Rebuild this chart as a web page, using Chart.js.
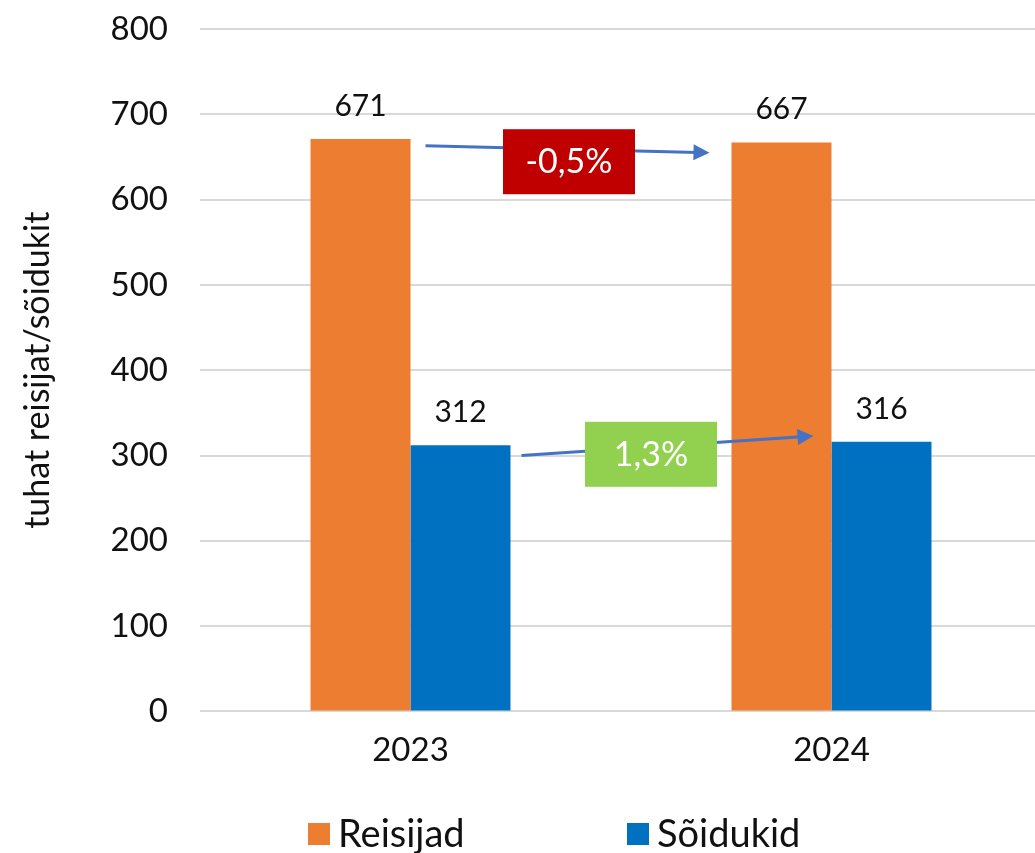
<!DOCTYPE html>
<html>
<head>
<meta charset="utf-8">
<script src="https://cdn.jsdelivr.net/npm/chart.js@4"></script>
<style>
  html, body { margin: 0; padding: 0; background: #fff; overflow: hidden; }
  #wrap { width: 1045px; height: 853px; }
</style>
</head>
<body>
<div id="wrap"><canvas id="grafik"></canvas></div>
<script>
// Andmed
const aastad = ["2023", "2024"];
const reisijad = [671, 667];
const soidukid = [312, 316];
const muutused = ["-0,5%", "1,3%"];

// Väärtused tulpade kohal
const vaartusSildid = {
  id: "vaartusSildid",
  afterDatasetsDraw(chart) {
    const ctx = chart.ctx;
    ctx.save();
    ctx.font = "30px Lato";
    ctx.fillStyle = "#111";
    ctx.textAlign = "center";
    ctx.textBaseline = "bottom";
    chart.data.datasets.forEach((ds, i) => {
      chart.getDatasetMeta(i).data.forEach((bar, j) => {
        ctx.fillText(ds.data[j], bar.x, bar.y - 18);
      });
    });
    ctx.restore();
  }
};

// Nooled ja muutuse kastid
const nooled = {
  id: "nooled",
  afterDatasetsDraw(chart) {
    const ctx = chart.ctx;
    const y = chart.scales.y;
    const noolList = [
      { ds: 0, y1: 663, y2: 655, d1: 65, d2: -72, tekst: muutused[0], bg: "#C00000", dx: -2, by: 645 },
      { ds: 1, y1: 300, y2: 323, d1: 61, d2: -68, tekst: muutused[1], bg: "#92D050", dx: -20, by: 302 }
    ];
    ctx.save();
    noolList.forEach(n => {
      const m = chart.getDatasetMeta(n.ds).data;
      const x1 = m[0].x + n.d1, x2 = m[1].x + n.d2;
      const ya = y.getPixelForValue(n.y1), yb = y.getPixelForValue(n.y2);
      ctx.strokeStyle = "#4472C4";
      ctx.fillStyle = "#4472C4";
      ctx.lineWidth = 3;
      const ang = Math.atan2(yb - ya, x2 - x1);
      ctx.beginPath();
      ctx.moveTo(x1, ya);
      ctx.lineTo(x2 - 12 * Math.cos(ang), yb - 12 * Math.sin(ang));
      ctx.stroke();
      ctx.beginPath();
      ctx.moveTo(x2, yb);
      ctx.lineTo(x2 - 16 * Math.cos(ang) + 8 * Math.sin(ang), yb - 16 * Math.sin(ang) - 8 * Math.cos(ang));
      ctx.lineTo(x2 - 16 * Math.cos(ang) - 8 * Math.sin(ang), yb - 16 * Math.sin(ang) + 8 * Math.cos(ang));
      ctx.closePath();
      ctx.fill();
      // kast
      const bx = (m[0].x + m[1].x) / 2 + n.dx;
      const byPx = y.getPixelForValue(n.by);
      ctx.fillStyle = n.bg;
      ctx.fillRect(bx - 66, byPx - 32, 132, 65);
      ctx.fillStyle = "#fff";
      ctx.font = "34px Lato";
      ctx.textAlign = "center";
      ctx.textBaseline = "middle";
      ctx.fillText(n.tekst, bx, byPx + 1);
    });
    ctx.restore();
  }
};

// Legend all, laiemate vahedega
const legend = {
  id: "omaLegend",
  afterDraw(chart) {
    const ctx = chart.ctx;
    const a = chart.chartArea;
    const kohad = [a.left + 108, a.left + 427];
    const yKesk = 834;
    ctx.save();
    ctx.font = "38px Lato";
    ctx.textBaseline = "middle";
    ctx.textAlign = "left";
    chart.data.datasets.forEach((ds, i) => {
      ctx.fillStyle = ds.backgroundColor;
      ctx.fillRect(kohad[i], yKesk - 11, 22, 22);
      ctx.fillStyle = "#111";
      ctx.fillText(ds.label, kohad[i] + 30, yKesk + 1);
    });
    ctx.restore();
  }
};

const ctx = document.getElementById("grafik").getContext("2d");
new Chart(ctx, {
  type: "bar",
  data: {
    labels: aastad,
    datasets: [
      { label: "Reisijad", data: reisijad, backgroundColor: "#ED7D31" },
      { label: "Sõidukid", data: soidukid, backgroundColor: "#0070C0" }
    ]
  },
  options: {
    responsive: true,
    maintainAspectRatio: false,
    animation: false,
    layout: { padding: { top: 29, right: 3, left: 0, bottom: 72 } },
    datasets: { bar: { categoryPercentage: 0.475, barPercentage: 1 } },
    plugins: {
      legend: { display: false },
      tooltip: { enabled: false }
    },
    scales: {
      x: {
        grid: { display: false },
        border: { display: false },
        ticks: { color: "#111", font: { family: "Lato", size: 33 }, padding: 11 }
      },
      y: {
        min: 0,
        max: 800,
        ticks: { stepSize: 100, color: "#111", font: { family: "Lato", size: 33 }, padding: 2 },
        grid: { color: "#d9d9d9", lineWidth: 2, drawTicks: true, tickLength: 30, tickColor: "rgba(0,0,0,0)" },
        border: { display: false },
        title: {
          display: true,
          text: "tuhat reisijat/sõidukit",
          color: "#111",
          font: { family: "Lato", size: 34 },
          padding: { top: 18, bottom: 0 }
        },
        afterFit(scale) { scale.width = 200; }
      }
    }
  },
  plugins: [vaartusSildid, nooled, legend]
});
</script>
</body>
</html>
